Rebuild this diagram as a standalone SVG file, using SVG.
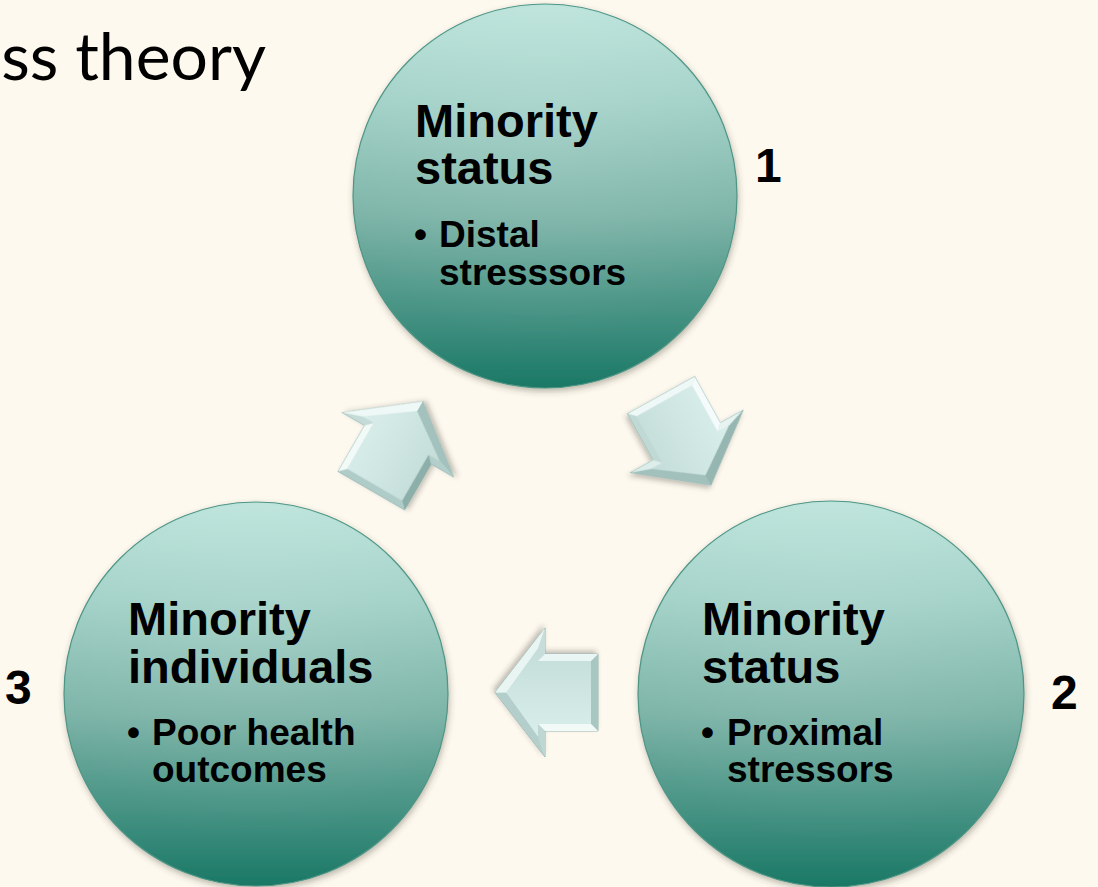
<svg xmlns="http://www.w3.org/2000/svg" width="1098" height="887" viewBox="0 0 1098 887">
  <defs>
    <linearGradient id="ballFill" x1="0" y1="0" x2="0" y2="1">
      <stop offset="0" stop-color="#bce4db"/>
      <stop offset="0.25" stop-color="#a3d2c8"/>
      <stop offset="0.55" stop-color="#7db4a8"/>
      <stop offset="0.85" stop-color="#3b8c7c"/>
      <stop offset="1" stop-color="#1a7865"/>
    </linearGradient>
    <radialGradient id="ballSheen" cx="0.5" cy="0.3" r="0.6">
      <stop offset="0" stop-color="#ffffff" stop-opacity="0.10"/>
      <stop offset="1" stop-color="#ffffff" stop-opacity="0"/>
    </radialGradient>
    <linearGradient id="arrowFace" x1="0" y1="0" x2="0" y2="1">
      <stop offset="0" stop-color="#d9eeeb"/>
      <stop offset="1" stop-color="#c4ddd9"/>
    </linearGradient>
    <filter id="softShadow" x="-20%" y="-20%" width="140%" height="140%">
      <feDropShadow dx="1" dy="3" stdDeviation="3" flood-color="#3a3a2a" flood-opacity="0.35"/>
    </filter>
    <filter id="arrowShadow" x="-30%" y="-30%" width="160%" height="160%">
      <feDropShadow dx="2" dy="3" stdDeviation="2.5" flood-color="#3a3a2a" flood-opacity="0.3"/>
    </filter>
    <!-- block arrow pointing right, centred on the origin -->
    <polygon id="arrowOuter" points="-51.5,-38.5 1.5,-38.5 1.5,-64.5 51.5,0 1.5,64.5 1.5,38.5 -51.5,38.5"/>
    <polygon id="arrowInner" points="-44.5,-31.5 8.5,-31.5 8.5,-44.1 40.1,0 8.5,44.1 8.5,31.5 -44.5,31.5"/>
  </defs>

  <style>
    .ball { fill: url(#ballFill); stroke: #4f9586; stroke-width: 1.2; filter: url(#softShadow); }
    .sheen { fill: url(#ballSheen); }
    .head { font-family: "Liberation Sans", Arial, sans-serif; font-weight: bold; font-size: 47px; fill: #000; }
    .bullet { font-family: "Liberation Sans", Arial, sans-serif; font-weight: bold; font-size: 37px; fill: #000; }
    .num { font-family: "Liberation Sans", Arial, sans-serif; font-weight: bold; font-size: 48px; fill: #000; }
    .title { font-family: Lato, "Open Sans", sans-serif; font-size: 66px; fill: #000; }
    .outer { stroke: #86a9a4; stroke-width: 0.8; }
    .face { fill: url(#arrowFace); }
  </style>

  <rect width="1098" height="887" fill="#fef9ef"/>

  <text class="title" x="266" y="80" text-anchor="end">ss theory</text>

  <!-- connectors: bevelled block arrows -->
  <g id="connectors">
    <g id="arrow-3-to-1" transform="translate(397,446) rotate(-60)" filter="url(#arrowShadow)">
      <use href="#arrowOuter" class="outer" fill="#c9e0dc"/>
      <polygon points="-51.5,38.5 -51.5,-38.5 -44.5,-31.5 -44.5,31.5" fill="#b0ccc8"/>
      <polygon points="-51.5,-38.5 1.5,-38.5 8.5,-31.5 -44.5,-31.5" fill="#f2faf8"/>
      <polygon points="1.5,-38.5 1.5,-64.5 8.5,-44.1 8.5,-31.5" fill="#c4dbd7"/>
      <polygon points="1.5,-64.5 51.5,0 40.1,0 8.5,-44.1" fill="#eef8f6"/>
      <polygon points="51.5,0 1.5,64.5 8.5,44.1 40.1,0" fill="#a3c2bd"/>
      <polygon points="1.5,64.5 1.5,38.5 8.5,31.5 8.5,44.1" fill="#b3cecb"/>
      <polygon points="1.5,38.5 -51.5,38.5 -44.5,31.5 8.5,31.5" fill="#8cafaa"/>
      <use href="#arrowInner" class="face"/>
    </g>
    <g id="arrow-1-to-2" transform="translate(686,440) rotate(61)" filter="url(#arrowShadow)">
      <use href="#arrowOuter" class="outer" fill="#c9e0dc"/>
      <polygon points="-51.5,38.5 -51.5,-38.5 -44.5,-31.5 -44.5,31.5" fill="#eef8f6"/>
      <polygon points="-51.5,-38.5 1.5,-38.5 8.5,-31.5 -44.5,-31.5" fill="#f4fbfa"/>
      <polygon points="1.5,-38.5 1.5,-64.5 8.5,-44.1 8.5,-31.5" fill="#e6f3f1"/>
      <polygon points="1.5,-64.5 51.5,0 40.1,0 8.5,-44.1" fill="#95b6b1"/>
      <polygon points="51.5,0 1.5,64.5 8.5,44.1 40.1,0" fill="#a2c1bc"/>
      <polygon points="1.5,64.5 1.5,38.5 8.5,31.5 8.5,44.1" fill="#dcedea"/>
      <polygon points="1.5,38.5 -51.5,38.5 -44.5,31.5 8.5,31.5" fill="#c0d9d5"/>
      <use href="#arrowInner" class="face"/>
    </g>
    <g id="arrow-2-to-3" transform="translate(546.5,692.5) rotate(180)" filter="url(#arrowShadow)">
      <use href="#arrowOuter" class="outer" fill="#c9e0dc"/>
      <polygon points="-51.5,38.5 -51.5,-38.5 -44.5,-31.5 -44.5,31.5" fill="#a8c6c2"/>
      <polygon points="-51.5,-38.5 1.5,-38.5 8.5,-31.5 -44.5,-31.5" fill="#f2faf8"/>
      <polygon points="1.5,-38.5 1.5,-64.5 8.5,-44.1 8.5,-31.5" fill="#bfd7d3"/>
      <polygon points="1.5,-64.5 51.5,0 40.1,0 8.5,-44.1" fill="#b4cfcb"/>
      <polygon points="51.5,0 1.5,64.5 8.5,44.1 40.1,0" fill="#e8f5f3"/>
      <polygon points="1.5,64.5 1.5,38.5 8.5,31.5 8.5,44.1" fill="#c6ddd9"/>
      <polygon points="1.5,38.5 -51.5,38.5 -44.5,31.5 8.5,31.5" fill="#eaf6f4"/>
      <use href="#arrowInner" class="face"/>
    </g>
  </g>

  <!-- stage 1 -->
  <g id="node-1">
    <circle class="ball" cx="545" cy="196" r="192"/>
    <circle class="sheen" cx="545" cy="196" r="190"/>
    <text class="head" x="415" y="137">Minority</text>
    <text class="head" x="415" y="184">status</text>
    <text class="bullet" x="414" y="247">•</text>
    <text class="bullet" x="439" y="247">Distal</text>
    <text class="bullet" x="439" y="285">stresssors</text>
    <text class="num" x="755" y="182">1</text>
  </g>

  <!-- stage 2 -->
  <g id="node-2">
    <circle class="ball" cx="831" cy="694" r="193"/>
    <circle class="sheen" cx="831" cy="694" r="191"/>
    <text class="head" x="702" y="635">Minority</text>
    <text class="head" x="702" y="683">status</text>
    <text class="bullet" x="701" y="745">•</text>
    <text class="bullet" x="727" y="745">Proximal</text>
    <text class="bullet" x="727" y="782">stressors</text>
    <text class="num" x="1051" y="709">2</text>
  </g>

  <!-- stage 3 -->
  <g id="node-3">
    <circle class="ball" cx="256" cy="694" r="192"/>
    <circle class="sheen" cx="256" cy="694" r="190"/>
    <text class="head" x="128" y="635">Minority</text>
    <text class="head" x="128" y="683">individuals</text>
    <text class="bullet" x="127" y="745">•</text>
    <text class="bullet" x="152" y="745">Poor health</text>
    <text class="bullet" x="152" y="782">outcomes</text>
    <text class="num" x="5" y="704">3</text>
  </g>
</svg>
